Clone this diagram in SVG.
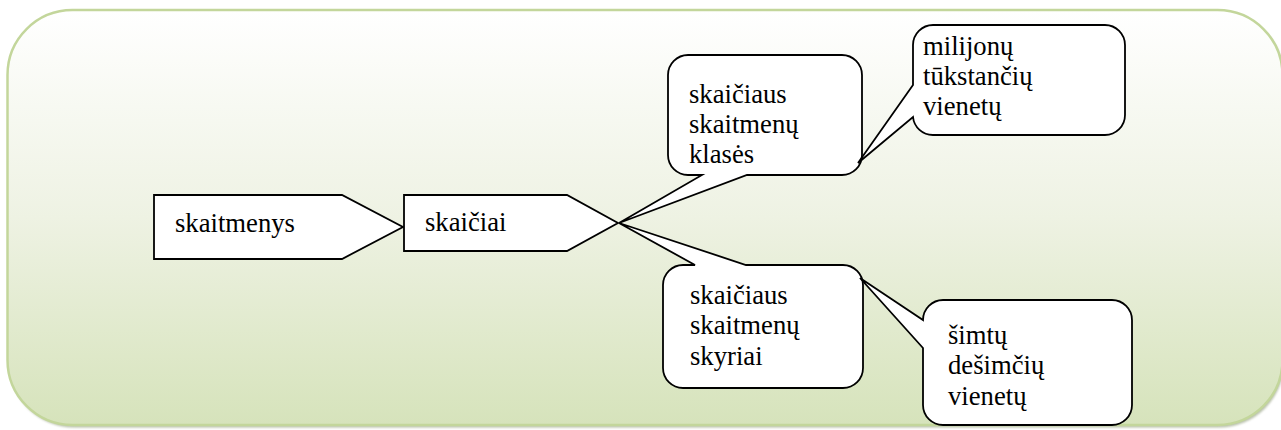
<svg xmlns="http://www.w3.org/2000/svg" width="1281" height="430" viewBox="0 0 1281 430">
  <defs>
    <linearGradient id="bg" x1="0" y1="0" x2="0" y2="1">
      <stop offset="0" stop-color="#ffffff"/>
      <stop offset="0.5" stop-color="#eef2e3"/>
      <stop offset="1" stop-color="#d6e3bb"/>
    </linearGradient>
    <filter id="soft" x="-5%" y="-5%" width="110%" height="110%">
      <feGaussianBlur stdDeviation="1"/>
    </filter>
  </defs>
  <style>
    .shape { fill: #ffffff; stroke: #000000; stroke-width: 1.8; stroke-linejoin: miter; }
    text { font-family: 'Liberation Serif', 'Times New Roman', Times, 'DejaVu Serif', 'Noto Serif', serif; font-size: 26.67px; fill: #000000; }
  </style>

  <g id="background">
    <rect x="9" y="12.5" width="1275" height="415" rx="65" ry="65" fill="#9da88a" opacity="0.7" filter="url(#soft)"/>
    <rect x="7.5" y="10" width="1275" height="415" rx="65" ry="65" fill="url(#bg)" stroke="#c3d69b" stroke-width="2.5"/>
  </g>

  <g id="node-skaitmenys">
    <path class="shape" d="M154,195 H342 L403,227 L342,259 H154 Z"/>
    <text x="175" y="232" font-family="Liberation Serif">skaitmenys</text>
  </g>

  <g id="node-skaiciai">
    <path class="shape" d="M404,195 H567 L618,223 L567,251 H404 Z"/>
    <text x="425" y="231" font-family="Liberation Serif">skaičiai</text>
  </g>

  <g id="node-klases">
    <path class="shape" d="M688,55 H842 A20,20 0 0 1 862,75 V155 A20,20 0 0 1 842,175 H747 L619,223 L702,175 H688 A20,20 0 0 1 668,155 V75 A20,20 0 0 1 688,55 Z"/>
    <text x="689" y="103">skaičiaus</text>
    <text x="689" y="133">skaitmenų</text>
    <text x="689" y="163">klasės</text>
  </g>

  <g id="node-milijonu">
    <path class="shape" d="M933,25 H1105 A20,20 0 0 1 1125,45 V115 A20,20 0 0 1 1105,135 H933 A20,20 0 0 1 913,117 L858,163 L913,85 V45 A20,20 0 0 1 933,25 Z"/>
    <text x="923" y="55">milijonų</text>
    <text x="923" y="85">tūkstančių</text>
    <text x="923" y="115">vienetų</text>
  </g>

  <g id="node-skyriai">
    <path class="shape" d="M683,265 H695 L619,223 L746,265 H843 A20,20 0 0 1 863,285 V368 A20,20 0 0 1 843,388 H683 A20,20 0 0 1 663,368 V285 A20,20 0 0 1 683,265 Z"/>
    <text x="690" y="304">skaičiaus</text>
    <text x="690" y="334">skaitmenų</text>
    <text x="690" y="365">skyriai</text>
  </g>

  <g id="node-simtu">
    <path class="shape" d="M943,300 H1112 A20,20 0 0 1 1132,320 V405 A20,20 0 0 1 1112,425 H943 A20,20 0 0 1 923,405 V348 L860,278 L923,320 A20,20 0 0 1 943,300 Z"/>
    <text x="948" y="344">šimtų</text>
    <text x="948" y="374">dešimčių</text>
    <text x="948" y="405">vienetų</text>
  </g>
</svg>
